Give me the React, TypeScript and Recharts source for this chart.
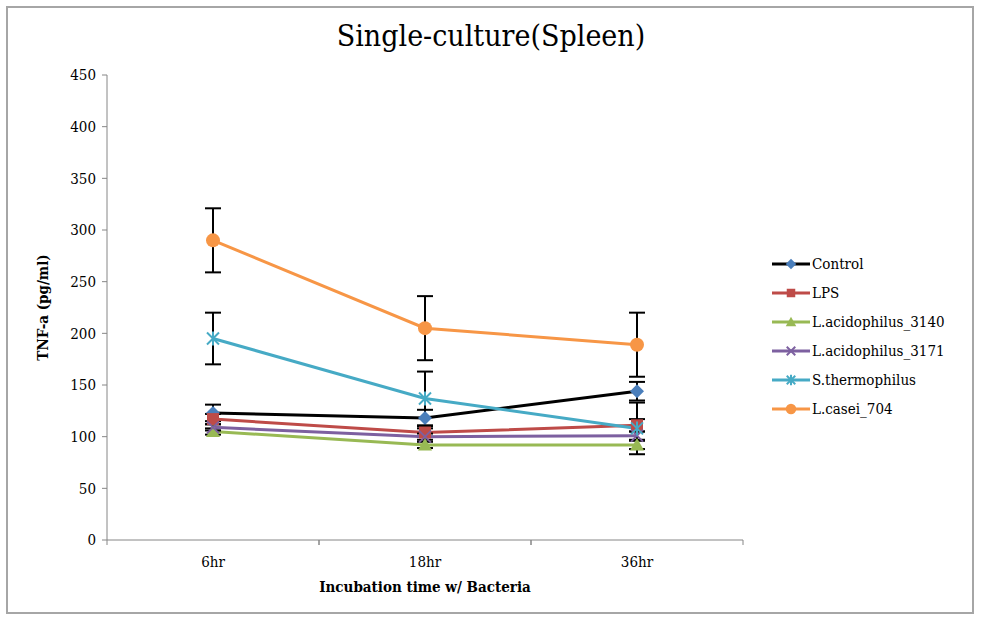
import React from 'react';
import { LineChart, Line, XAxis, YAxis, ErrorBar } from 'recharts';

const categories = ['6hr', '18hr', '36hr'];
const yTicks = [0, 50, 100, 150, 200, 250, 300, 350, 400, 450];

const control = [123, 118, 144];
const controlErr = [8, 8, 9];
const lps = [117, 104, 111];
const lpsErr = [5, 4, 6];
const acid3140 = [105, 92, 92];
const acid3140Err = [3, 3, 4];
const acid3171 = [109, 100, 101];
const acid3171Err = [3, 3, 4];
const sthermo = [195, 137, 108];
const sthermoErr = [25, 26, 25];
const casei = [290, 205, 189];
const caseiErr = [31, 31, 31];

const data = categories.map((c, i) => ({
  cat: c,
  control: control[i], controlErr: controlErr[i],
  lps: lps[i], lpsErr: lpsErr[i],
  acid3140: acid3140[i], acid3140Err: acid3140Err[i],
  acid3171: acid3171[i], acid3171Err: acid3171Err[i],
  sthermo: sthermo[i], sthermoErr: sthermoErr[i],
  casei: casei[i], caseiErr: caseiErr[i],
}));

const FONT = '"DejaVu Serif Condensed", "DejaVu Serif", serif';
const W = 982;
const H = 624;
const M = { top: 75, right: 239, bottom: 54, left: 47 };
const Y_W = 60;
const X_H = 30;
const PLOT_W = W - M.left - M.right - Y_W;
const HALF = PLOT_W / (2 * categories.length);
const PLOT_BOTTOM = H - M.bottom - X_H;
const AXIS = '#868686';

type Kind = 'diamond' | 'square' | 'triangle' | 'x' | 'star' | 'circle';

const Marker = ({ kind, cx, cy, color, s = 1 }: { kind: Kind; cx: number; cy: number; color: string; s?: number }) => {
  if (cx == null || cy == null) return null;
  const r = 7 * s;
  switch (kind) {
    case 'diamond':
      return <polygon points={`${cx},${cy - r} ${cx + r},${cy} ${cx},${cy + r} ${cx - r},${cy}`} fill={color} />;
    case 'square':
      return <rect x={cx - r + 1} y={cy - r + 1} width={2 * r - 2} height={2 * r - 2} fill={color} />;
    case 'triangle':
      return <polygon points={`${cx},${cy - r} ${cx + r},${cy + r * 0.8} ${cx - r},${cy + r * 0.8}`} fill={color} />;
    case 'x':
      return (
        <g stroke={color} strokeWidth={2}>
          <line x1={cx - r + 1} y1={cy - r + 1} x2={cx + r - 1} y2={cy + r - 1} />
          <line x1={cx - r + 1} y1={cy + r - 1} x2={cx + r - 1} y2={cy - r + 1} />
        </g>
      );
    case 'star':
      return (
        <g stroke={color} strokeWidth={2}>
          <line x1={cx - r + 1} y1={cy - r + 1} x2={cx + r - 1} y2={cy + r - 1} />
          <line x1={cx - r + 1} y1={cy + r - 1} x2={cx + r - 1} y2={cy - r + 1} />
          <line x1={cx} y1={cy - r} x2={cx} y2={cy + r} />
        </g>
      );
    default:
      return <circle cx={cx} cy={cy} r={r} fill={color} />;
  }
};

const series: { key: string; name: string; line: string; marker: string; kind: Kind }[] = [
  { key: 'control', name: 'Control', line: '#000000', marker: '#4a7ebb', kind: 'diamond' },
  { key: 'lps', name: 'LPS', line: '#be4b48', marker: '#be4b48', kind: 'square' },
  { key: 'acid3140', name: 'L.acidophilus_3140', line: '#98b954', marker: '#98b954', kind: 'triangle' },
  { key: 'acid3171', name: 'L.acidophilus_3171', line: '#7d60a0', marker: '#7d60a0', kind: 'x' },
  { key: 'sthermo', name: 'S.thermophilus', line: '#46aac5', marker: '#46aac5', kind: 'star' },
  { key: 'casei', name: 'L.casei_704', line: '#f79646', marker: '#f79646', kind: 'circle' },
];

const LegendBox = () => (
  <div style={{ position: 'absolute', left: 771, top: 249, width: 200, fontFamily: FONT, fontSize: 15, color: '#000' }}>
    {series.map((s) => (
      <div key={s.key} style={{ display: 'flex', alignItems: 'center', height: 29 }}>
        <svg width={40} height={16} style={{ marginRight: 1 }}>
          <line x1={1} y1={8} x2={39} y2={8} stroke={s.line} strokeWidth={3} />
          <Marker kind={s.kind} cx={20} cy={8} color={s.marker} s={0.75} />
        </svg>
        <span>{s.name}</span>
      </div>
    ))}
  </div>
);

const XTick = (props: any) => {
  const { x, payload } = props;
  return (
    <g>
      <line x1={x - HALF} y1={PLOT_BOTTOM} x2={x - HALF} y2={PLOT_BOTTOM + 5} stroke={AXIS} />
      <line x1={x + HALF} y1={PLOT_BOTTOM} x2={x + HALF} y2={PLOT_BOTTOM + 5} stroke={AXIS} />
      <text x={x} y={PLOT_BOTTOM + 27} textAnchor="middle" fontFamily={FONT} fontSize={15} fill="#000">
        {payload.value}
      </text>
    </g>
  );
};

export default function App() {
  return (
    <div style={{ position: 'absolute', left: 0, top: 0, width: W, height: H, background: '#fff' }}>
      <div
        style={{
          position: 'absolute', left: 6, top: 6, width: W - 14, height: H - 16,
          border: '2px solid #a6a6a6', boxSizing: 'border-box',
        }}
      />
      <div
        style={{
          position: 'absolute', left: 0, top: 18, width: W, textAlign: 'center',
          fontFamily: FONT, fontSize: 30, color: '#000',
        }}
      >
        Single-culture(Spleen)
      </div>
      <div style={{ position: 'absolute', left: 0, top: 0 }}>
        <LineChart width={W} height={H} data={data} margin={M}>
          <XAxis
            dataKey="cat"
            stroke={AXIS}
            tickLine={false}
            tick={<XTick />}
            height={X_H}
            padding={{ left: HALF, right: HALF }}
            label={{
              value: 'Incubation time w/ Bacteria',
              position: 'insideBottom',
              offset: -22,
              style: { fontFamily: FONT, fontSize: 15, fontWeight: 'bold', fill: '#000' },
            }}
          />
          <YAxis
            domain={[0, 450]}
            ticks={yTicks}
            width={Y_W}
            stroke={AXIS}
            tickSize={5}
            tickMargin={6}
            tick={{ fontFamily: FONT, fontSize: 15, fill: '#000' }}
            label={{
              value: 'TNF-a (pg/ml)',
              angle: -90,
              position: 'insideLeft',
              offset: -4,
              style: { fontFamily: FONT, fontSize: 15, fontWeight: 'bold', fill: '#000', textAnchor: 'middle' },
            }}
          />
          {series.map((s) => (
            <Line
              key={s.key}
              dataKey={s.key}
              name={s.name}
              stroke={s.line}
              strokeWidth={3}
              isAnimationActive={false}
              dot={(p: any) => <Marker key={`${s.key}-${p.index}`} kind={s.kind} cx={p.cx} cy={p.cy} color={s.marker} />}
              activeDot={false}
            >
              <ErrorBar dataKey={`${s.key}Err`} width={8} strokeWidth={2} stroke="#000" direction="y" />
            </Line>
          ))}
        </LineChart>
      </div>
      <LegendBox />
    </div>
  );
}
